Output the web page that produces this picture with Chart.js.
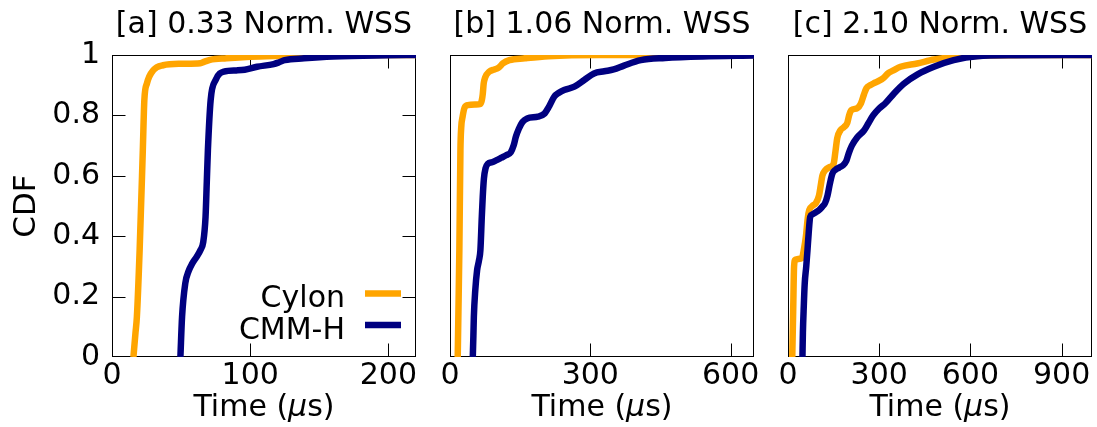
<!DOCTYPE html>
<html>
<head>
<meta charset="utf-8">
<script src="https://cdn.jsdelivr.net/npm/chart.js@4.4.1/dist/chart.umd.min.js"></script>
<style>
  html, body { margin: 0; padding: 0; background: #fff; }
  #wrap { position: relative; width: 1097px; height: 427px; overflow: hidden; }
  #wrap canvas { position: absolute; left: 0; top: 0; }
</style>
</head>
<body>
<div id="wrap">
  <canvas id="panelA" width="1097" height="427"></canvas>
  <canvas id="panelB" width="1097" height="427"></canvas>
  <canvas id="panelC" width="1097" height="427"></canvas>
</div>
<script>
// ---- series ----
const seriesNames = ['Cylon', 'CMM-H'];
const seriesColors = ['#FFA500', '#000080'];
const panelTitles = ['[a] 0.33 Norm. WSS', '[b] 1.06 Norm. WSS', '[c] 2.10 Norm. WSS'];

// ---- axes ----
const yTickValues = [0, 0.2, 0.4, 0.6, 0.8, 1];
const yTickLabels = ['0', '0.2', '0.4', '0.6', '0.8', '1'];
const xTicksA = [0, 100, 200];
const xTicksB = [0, 300, 600];
const xTicksC = [0, 300, 600, 900];
const xMaxA = 220;
const xMaxB = 650;
const xMaxC = 1000;

// ---- [a] 0.33 Norm. WSS ----
const cylonA_t   = [15.5, 17, 18, 20, 22.3, 23.4, 25.3, 30, 37, 50, 64, 67, 71, 83, 100, 120, 150, 220];
const cylonA_cdf = [0, 0.08, 0.133, 0.354, 0.685, 0.85, 0.906, 0.95, 0.966, 0.971, 0.973, 0.978, 0.984, 0.989, 0.994, 0.997, 1, 1];
const cmmhA_t    = [49.5, 50.7, 53, 55.5, 58, 61, 64, 66, 67.7, 68.6, 69.4, 71.4, 75, 81, 90, 96, 105, 117, 121, 125, 139, 160, 200, 220];
const cmmhA_cdf  = [0, 0.133, 0.243, 0.285, 0.309, 0.33, 0.354, 0.38, 0.464, 0.58, 0.685, 0.851, 0.917, 0.945, 0.949, 0.951, 0.961, 0.97, 0.976, 0.983, 0.989, 0.995, 0.999, 1];

// ---- [b] 1.06 Norm. WSS ----
const cylonB_t   = [16.5, 18, 20, 22.3, 24, 27, 31, 38, 55, 65, 68, 70, 72, 75, 84, 95, 104, 113, 127, 160, 210, 320, 650];
const cylonB_cdf = [0, 0.15, 0.354, 0.685, 0.76, 0.796, 0.825, 0.834, 0.836, 0.838, 0.85, 0.87, 0.905, 0.925, 0.945, 0.952, 0.958, 0.972, 0.983, 0.989, 0.996, 1, 1];
const cmmhB_t    = [48.7, 50, 51, 54, 58, 62, 65, 68, 70, 72.5, 76, 81, 90, 98.5, 110, 120, 130, 136, 141, 147, 155, 165, 188, 202, 212, 223, 233, 244, 266, 287, 308, 330, 350, 372, 408, 460, 540, 650];
const cmmhB_cdf  = [0, 0.07, 0.133, 0.22, 0.288, 0.32, 0.354, 0.464, 0.53, 0.59, 0.625, 0.64, 0.645, 0.651, 0.66, 0.668, 0.678, 0.7, 0.73, 0.755, 0.778, 0.79, 0.796, 0.806, 0.83, 0.862, 0.875, 0.884, 0.895, 0.917, 0.939, 0.946, 0.952, 0.965, 0.983, 0.99, 0.995, 0.998];

// ---- [c] 2.10 Norm. WSS ----
const cylonC_t   = [14, 17, 20, 24, 46, 53, 59, 65, 70, 80, 92, 102, 108, 113, 122, 135, 150, 156, 162, 172, 185, 195, 201, 208, 228, 240, 250, 258, 270, 285, 300, 315, 330, 345, 370, 425, 480, 556, 650, 800, 1000];
const cylonC_cdf = [0, 0.15, 0.3, 0.322, 0.328, 0.36, 0.4, 0.46, 0.487, 0.5, 0.51, 0.535, 0.57, 0.6, 0.618, 0.628, 0.64, 0.68, 0.725, 0.75, 0.762, 0.775, 0.8, 0.817, 0.824, 0.84, 0.87, 0.89, 0.9, 0.908, 0.915, 0.925, 0.94, 0.948, 0.961, 0.972, 0.985, 0.994, 0.998, 1, 1];
const cmmhC_t    = [47.5, 49, 52, 55, 60, 64, 68, 73, 80, 90, 103, 113, 122, 130, 138, 146, 156, 168, 182, 192, 200, 210, 228, 250, 265, 280, 299, 321, 348, 381, 425, 480, 545, 622, 750, 1000];
const cmmhC_cdf  = [0, 0.08, 0.17, 0.243, 0.3, 0.353, 0.41, 0.464, 0.472, 0.478, 0.487, 0.498, 0.51, 0.535, 0.575, 0.607, 0.62, 0.627, 0.636, 0.65, 0.675, 0.7, 0.728, 0.75, 0.775, 0.8, 0.822, 0.841, 0.872, 0.905, 0.935, 0.961, 0.983, 0.996, 0.999, 1];

const FONT = '"DejaVu Sans", "Liberation Sans", sans-serif';
const FONT_SIZE = 30;
Chart.defaults.font.family = FONT;
Chart.defaults.font.size = FONT_SIZE;
Chart.defaults.color = '#000';

const W = 1097, H = 427;
const PLOT_TOP = 55, PLOT_BOTTOM = 357, TICK_LEN = 13;

function points(ts, cs) {
  return ts.map((t, i) => ({ x: t, y: cs[i] }));
}

// frame, inward tick marks, titles and legend for one panel
const panelDecor = {
  id: 'panelDecor',
  beforeDatasetsDraw(chart, args, o) {
    const { ctx, chartArea: a } = chart;
    const L = Math.round(a.left) + 0.5, R = Math.round(a.right) - 0.5;
    const T = Math.round(a.top) + 0.5, B = Math.round(a.bottom) - 0.5;
    ctx.save();
    ctx.strokeStyle = '#000';
    ctx.lineWidth = 1;
    ctx.beginPath();
    const xs = chart.scales.x;
    o.xTicks.forEach(v => {
      const px = Math.round(xs.getPixelForValue(v)) + 0.5;
      if (px <= L + 1 || px >= R - 1) return;
      ctx.moveTo(px, B); ctx.lineTo(px, B - TICK_LEN);
      ctx.moveTo(px, T); ctx.lineTo(px, T + TICK_LEN);
    });
    if (o.yTicksShown) {
      const ys = chart.scales.y;
      yTickValues.forEach(v => {
        const py = Math.round(ys.getPixelForValue(v)) + 0.5;
        if (py <= T + 1 || py >= B - 1) return;
        ctx.moveTo(L, py); ctx.lineTo(L + TICK_LEN, py);
        ctx.moveTo(R, py); ctx.lineTo(R - TICK_LEN, py);
      });
    }
    ctx.stroke();
    ctx.strokeRect(L, T, R - L, B - T);
    ctx.restore();
  },
  afterDraw(chart, args, o) {
    const { ctx, chartArea: a } = chart;
    const cx = (a.left + a.right) / 2;
    ctx.save();
    ctx.fillStyle = '#000';
    ctx.textBaseline = 'alphabetic';
    // panel title
    ctx.font = FONT_SIZE + 'px ' + FONT;
    ctx.textAlign = 'center';
    ctx.fillText(o.title, cx, 33);
    // x axis title with an italic mu
    const parts = [['Time (', 'normal'], ['\u03BC', 'italic'], ['s)', 'normal']];
    let total = 0;
    const widths = parts.map(([s, st]) => {
      ctx.font = st + ' ' + FONT_SIZE + 'px ' + FONT;
      const w = ctx.measureText(s).width; total += w; return w;
    });
    ctx.textAlign = 'left';
    let x = cx - total / 2;
    parts.forEach(([s, st], i) => {
      ctx.font = st + ' ' + FONT_SIZE + 'px ' + FONT;
      ctx.fillText(s, x, 416);
      x += widths[i];
    });
    // legend
    if (o.legend) {
      ctx.font = FONT_SIZE + 'px ' + FONT;
      ctx.textAlign = 'right';
      const rows = [307, 338.5];
      chart.data.datasets.forEach((ds, i) => {
        const by = rows[i];
        ctx.fillStyle = '#000';
        ctx.fillText(ds.label, 345, by);
        ctx.strokeStyle = ds.borderColor;
        ctx.lineWidth = 6.5;
        ctx.lineCap = 'butt';
        ctx.beginPath();
        ctx.moveTo(365, by - 13.5);
        ctx.lineTo(401, by - 13.5);
        ctx.stroke();
      });
    }
    ctx.restore();
  }
};

function makePanel(id, left, right, xMax, xTicks, title, cylonT, cylonC, cmmhT, cmmhC, first) {
  const datasets = [
    { label: seriesNames[0], data: points(cylonT, cylonC), borderColor: seriesColors[0], order: 1 },
    { label: seriesNames[1], data: points(cmmhT, cmmhC), borderColor: seriesColors[1], order: 0 }
  ].map(d => Object.assign(d, {
    borderWidth: 6.5, pointRadius: 0, fill: false,
    cubicInterpolationMode: 'monotone', borderJoinStyle: 'round'
  }));
  return new Chart(document.getElementById(id), {
    type: 'line',
    data: { datasets },
    plugins: [panelDecor],
    options: {
      responsive: false,
      animation: false,
      devicePixelRatio: 1,
      events: [],
      layout: { padding: { left: 0, right: W - right, top: PLOT_TOP, bottom: 0 } },
      plugins: {
        legend: { display: false },
        tooltip: { enabled: false },
        title: { display: false },
        panelDecor: { title, xTicks, yTicksShown: first, legend: first }
      },
      scales: {
        x: {
          type: 'linear', min: 0, max: xMax,
          grid: { display: false, drawTicks: false },
          border: { display: false },
          afterBuildTicks: s => { s.ticks = xTicks.map(v => ({ value: v })); },
          afterFit: s => { s.height = H - PLOT_BOTTOM; },
          ticks: { padding: 1, maxRotation: 0, autoSkip: false, font: { size: FONT_SIZE } }
        },
        y: {
          min: 0, max: 1,
          grid: { display: false, drawTicks: false },
          border: { display: false },
          afterBuildTicks: s => { s.ticks = yTickValues.map(v => ({ value: v })); },
          afterFit: s => { s.width = left; },
          ticks: {
            display: first,
            padding: 12, autoSkip: false, font: { size: FONT_SIZE },
            callback: (v) => yTickLabels[yTickValues.indexOf(v)]
          },
          title: { display: first, text: 'CDF', font: { size: 31 }, padding: { top: 8, bottom: 0 } }
        }
      }
    }
  });
}

makePanel('panelA', 112, 416, xMaxA, xTicksA, panelTitles[0], cylonA_t, cylonA_cdf, cmmhA_t, cmmhA_cdf, true);
makePanel('panelB', 450, 754, xMaxB, xTicksB, panelTitles[1], cylonB_t, cylonB_cdf, cmmhB_t, cmmhB_cdf, false);
makePanel('panelC', 788, 1092, xMaxC, xTicksC, panelTitles[2], cylonC_t, cylonC_cdf, cmmhC_t, cmmhC_cdf, false);
</script>
</body>
</html>
